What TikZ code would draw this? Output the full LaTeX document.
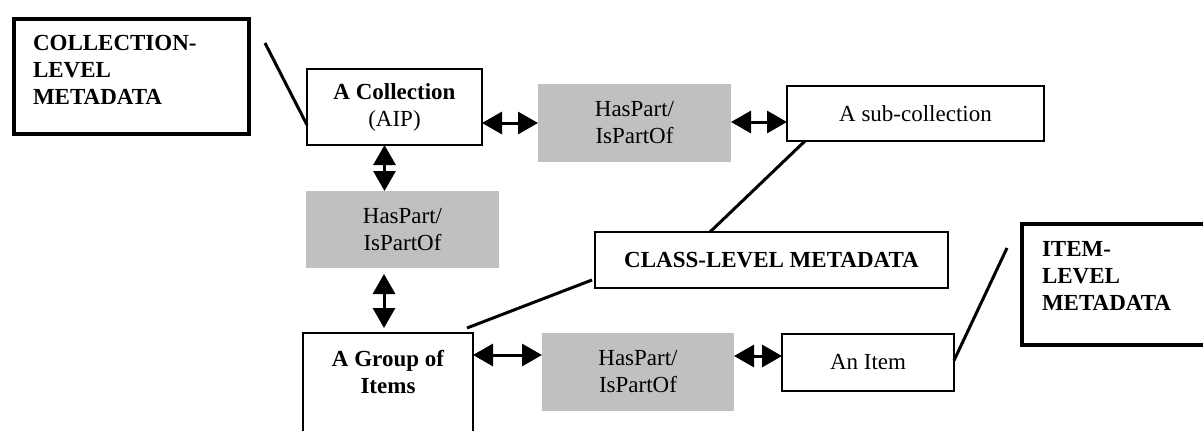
\documentclass[tikz,border=0pt]{standalone}
\usepackage{fontspec}
\setmainfont{Liberation Serif}
\usetikzlibrary{arrows.meta}
\definecolor{boxgray}{HTML}{C0C0C0}
\begin{document}
\begin{tikzpicture}[x=1pt,y=-1pt,
  base/.style={font=\fontsize{23}{27}\selectfont, align=center, inner sep=0pt, outer sep=0pt},
  box/.style={base, draw, line width=2.5pt},
  meta/.style={draw, line width=3.5pt, inner sep=0pt, outer sep=0pt},
  graybox/.style={base, fill=boxgray},
  mtext/.style={base, align=left, font=\bfseries\fontsize{23}{27}\selectfont, anchor=north west},
  biarrow/.style={{Triangle[length=20pt,width=22pt]}-{Triangle[length=20pt,width=22pt]}, line width=3pt},
  link/.style={line width=3pt}
]
\useasboundingbox (0,0) rectangle (1203,431);
\clip (0,0) rectangle (1203,431);

% metadata boxes
\node[meta, minimum width=235pt, minimum height=115pt] (cmeta) at (131.5,76.5) {};
\node[mtext] (cmetat) at (33,35) {COLLECTION-\\LEVEL\\METADATA};

\node[meta, minimum width=220pt, minimum height=121pt] (imeta) at (1132,284.5) {};
\node[mtext] (imetat) at (1042,241) {ITEM-\\LEVEL\\METADATA};

\node[box, minimum width=353pt, minimum height=56pt, font=\bfseries\fontsize{23}{27}\selectfont] (cls) at (771.5,260) {CLASS-LEVEL METADATA};

% main boxes
\node[box, minimum width=175pt, minimum height=76pt] (coll) at (394.5,107) {\textbf{A Collection}\\(AIP)};
\node[graybox, minimum width=193pt, minimum height=78pt] (hp1) at (634.5,123) {HasPart/\\IsPartOf};
\node[box, minimum width=257pt, minimum height=55pt] (sub) at (915.5,113.5) {A sub-collection};
\node[graybox, minimum width=193pt, minimum height=77pt] (hp2) at (402.5,229.5) {HasPart/\\IsPartOf};
\node[box, minimum width=170pt, minimum height=150pt] (grp) at (388,408) {};
\node[base, font=\bfseries\fontsize{23}{27}\selectfont, anchor=north] (grpt) at (388,350) {A Group of\\Items};
\node[graybox, minimum width=192pt, minimum height=78pt] (hp3) at (638,372) {HasPart/\\IsPartOf};
\node[box, minimum width=172pt, minimum height=57pt] (item) at (868,362.5) {An Item};

% double arrows
\draw[biarrow] (hp1.west -| coll.east) -- (hp1.west);
\draw[biarrow] ([yshift=1pt]hp1.east) -- ([yshift=1pt]hp1.east -| sub.west);
\draw[biarrow] ([xshift=-10pt]coll.south) -- ([xshift=-10pt]coll.south |- hp2.north);
\draw[biarrow, shorten <=6pt, shorten >=5pt] ([xshift=-4pt]grp.north |- hp2.south) -- ([xshift=-4pt]grp.north);
\draw[biarrow] ([yshift=17pt]hp3.west -| grp.east) -- ([yshift=17pt]hp3.west);
\draw[biarrow] ([yshift=16pt]hp3.east) -- ([yshift=16pt]hp3.east -| item.west);

% plain links
\coordinate (cfree) at (265,43);
\draw[link] (cfree) -- ([yshift=-18pt]coll.west);
\draw[link] ([xshift=-61.5pt]cls.north) -- ([xshift=-110.5pt]sub.south);
\draw[link] ([shift={(-6,-5)}]grp.north east) -- ([shift={(-3,-8)}]cls.south west);
\coordinate (ifree) at (1007,248);
\draw[link] ([yshift=2pt]item.east) -- (ifree);
\end{tikzpicture}
\end{document}
